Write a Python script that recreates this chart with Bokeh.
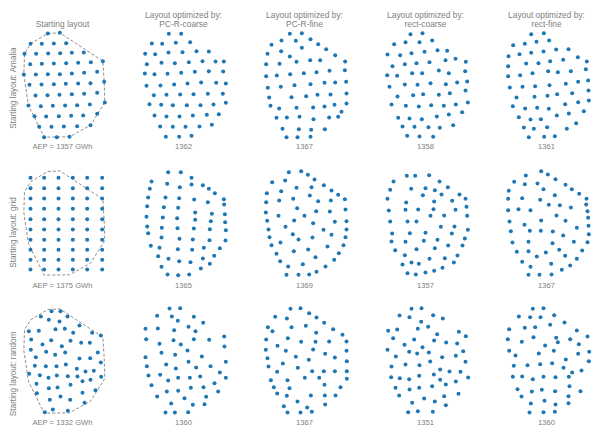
import math
from bokeh.plotting import figure
from bokeh.layouts import gridplot
from bokeh.models import Range1d, Label
from bokeh.embed import file_html
from bokeh.resources import INLINE

# ---------------- data (local layout coordinates, arbitrary units, y downward) -------------
col_titles = [["Starting layout"],
              ["Layout optimized by:", "PC-R-coarse"],
              ["Layout optimized by:", "PC-R-fine"],
              ["Layout optimized by:", "rect-coarse"],
              ["Layout optimized by:", "rect-fine"]]
row_labels = ["Starting layout: Amalia", "Starting layout: grid", "Starting layout: random"]
aep_labels = [["AEP = 1357 GWh", "1362", "1367", "1358", "1361"],
              ["AEP = 1375 GWh", "1365", "1369", "1357", "1367"],
              ["AEP = 1332 GWh", "1360", "1367", "1351", "1360"]]

boundary = [(142, 99), (178, 97), (307, 182), (311, 244), (313, 306), (270, 374), (207, 409),
            (131, 410), (84, 315), (70, 222), (72, 160), (90, 130), (142, 99)]

amalia_start = [(142,99),(178,97),(90,130),(124,130),(160,129),(197,128),(72,160),(107,160),(143,159),(179,158),(214,157),(250,156),(89,191),(124,190),(160,189),(197,188),(233,187),(271,185),(307,182),(70,222),(106,222),(142,221),(178,221),(214,219),(251,217),(290,214),(87,253),(123,252),(160,251),(196,250),(233,249),(270,248),(311,244),(105,285),(141,284),(177,283),(214,281),(251,280),(290,277),(84,315),(121,317),(157,316),(194,315),(230,314),(268,312),(313,306),(102,347),(137,348),(175,347),(212,346),(248,345),(290,340),(116,379),(153,379),(190,378),(230,377),(270,374),(131,410),(169,410),(207,409)]
amalia_pcr_coarse = [(142,100),(179,100),(91,129),(122,130),(163,127),(206,125),(71,160),(101,161),(141,156),(183,155),(225,152),(262,153),(76,191),(120,187),(160,188),(202,185),(243,182),(282,183),(307,183),(70,219),(99,221),(138,220),(179,217),(220,214),(262,212),(305,213),(75,256),(117,255),(158,252),(198,249),(239,246),(284,247),(313,249),(97,284),(135,283),(176,282),(216,281),(259,280),(304,280),(84,311),(119,313),(154,314),(196,314),(237,314),(276,312),(313,307),(99,345),(135,348),(174,348),(214,345),(256,343),(292,341),(116,378),(154,379),(192,379),(234,378),(271,373),(133,409),(173,409),(210,406)]
amalia_pcr_fine = [(142,100),(178,98),(87,133),(117,120),(160,121),(204,116),(227,131),(75,160),(116,152),(178,142),(251,146),(278,164),(142,168),(162,184),(203,179),(233,179),(308,183),(71,191),(111,190),(71,227),(103,225),(143,221),(184,218),(222,215),(261,211),(307,209),(76,262),(115,259),(156,254),(204,251),(246,247),(278,246),(311,244),(80,291),(147,290),(191,287),(225,283),(264,282),(312,279),(84,316),(110,324),(162,322),(212,321),(246,318),(276,313),(312,309),(297,334),(102,352),(133,351),(171,349),(213,356),(260,351),(287,349),(120,385),(169,386),(206,388),(247,386),(132,410),(165,410),(204,409)]
amalia_rect_coarse = [(141,101),(177,98),(92,131),(126,125),(168,125),(206,120),(72,162),(110,164),(144,158),(183,154),(222,149),(251,151),(87,197),(124,191),(159,188),(198,185),(246,179),(276,175),(307,184),(71,224),(101,226),(146,218),(176,218),(226,210),(256,218),(305,212),(78,259),(124,252),(162,253),(201,248),(247,251),(281,246),(311,243),(102,288),(149,284),(179,281),(226,283),(259,278),(306,270),(84,312),(127,316),(166,318),(203,314),(241,316),(277,312),(313,306),(104,352),(138,354),(175,356),(220,348),(256,342),(296,335),(117,378),(153,379),(195,380),(229,382),(269,374),(131,406),(168,408),(209,409)]
amalia_rect_fine = [(140,101),(178,98),(86,134),(121,130),(156,124),(194,120),(72,167),(105,161),(140,157),(177,153),(215,147),(252,146),(71,197),(125,189),(162,188),(197,182),(236,178),(280,170),(307,183),(71,227),(107,224),(144,218),(191,212),(220,215),(259,212),(304,206),(76,261),(114,259),(152,257),(195,254),(244,250),(281,244),(311,240),(96,291),(150,289),(189,286),(218,281),(263,278),(312,270),(85,317),(122,324),(158,322),(193,325),(242,311),(281,305),(313,300),(103,350),(138,357),(169,356),(217,345),(253,339),(298,332),(118,381),(148,385),(188,380),(247,385),(275,368),(133,410),(179,409),(211,407)]

grid_cols = [90, 131, 174, 217, 260, 305]
grid_rows = [118, 149, 180, 211, 242, 273, 304, 334, 364, 393]
grid_start = [(gx, gy) for gy in grid_rows for gx in grid_cols]
grid_pcr_coarse = [(140,101),(178,101),(90,129),(137,136),(175,146),(210,118),(210,138),(244,140),(262,151),(280,164),(85,151),(80,177),(132,177),(173,179),(218,183),(259,191),(307,182),(308,198),(77,203),(127,206),(170,208),(221,222),(271,226),(310,227),(75,235),(124,237),(167,239),(221,244),(268,248),(311,251),(77,264),(121,268),(168,269),(217,270),(265,272),(313,275),(80,284),(120,297),(174,301),(214,303),(264,305),(312,306),(88,322),(114,328),(169,332),(212,334),(247,328),(295,329),(110,353),(141,361),(173,368),(207,371),(244,360),(278,352),(265,376),(120,385),(238,390),(138,408),(170,410),(203,408)]
grid_pcr_fine = [(139,101),(176,98),(196,109),(216,123),(89,131),(128,126),(162,148),(207,146),(244,140),(267,156),(287,169),(73,164),(116,158),(152,181),(202,171),(227,188),(265,186),(307,182),(71,191),(110,186),(164,209),(221,218),(262,219),(309,213),(70,222),(108,232),(155,246),(186,232),(212,254),(277,250),(312,248),(74,247),(129,265),(243,274),(267,289),(312,273),(78,273),(81,296),(114,312),(151,287),(168,303),(210,297),(255,324),(309,296),(87,320),(303,320),(102,346),(154,338),(197,333),(219,356),(289,344),(113,368),(181,377),(275,364),(137,384),(249,384),(132,409),(168,409),(200,408),(222,400)]
grid_rect_coarse = [(130,112),(155,112),(197,110),(90,129),(228,129),(80,154),(143,151),(186,149),(214,155),(253,146),(178,170),(234,168),(288,168),(306,181),(72,181),(128,192),(212,189),(266,187),(76,216),(126,214),(164,213),(210,212),(276,214),(309,205),(201,232),(242,231),(311,232),(80,249),(132,249),(159,249),(232,265),(273,264),(313,274),(86,285),(139,284),(186,283),(265,285),(84,309),(126,310),(181,307),(222,304),(304,300),(95,335),(159,332),(214,329),(254,321),(297,321),(124,350),(198,361),(244,359),(282,351),(117,378),(144,372),(166,376),(271,372),(132,404),(157,408),(186,402),(212,397),(237,388)]
grid_rect_fine = [(170,98),(124,111),(190,108),(213,122),(89,130),(121,137),(159,135),(243,139),(262,152),(284,166),(73,157),(177,152),(211,170),(71,181),(113,179),(167,184),(193,199),(226,200),(259,207),(306,181),(305,198),(71,215),(102,212),(138,215),(216,231),(243,247),(309,218),(311,238),(75,249),(120,259),(170,246),(79,278),(136,277),(169,277),(205,279),(236,291),(277,268),(312,262),(313,287),(84,312),(132,310),(204,314),(268,310),(309,311),(97,340),(132,338),(184,342),(224,334),(242,352),(293,336),(157,354),(113,370),(138,385),(200,376),(232,394),(257,381),(277,361),(132,409),(165,409),(201,408)]

random_start = [(153,104),(180,104),(121,120),(201,120),(145,130),(177,135),(237,147),(85,164),(115,163),(165,158),(193,157),(218,169),(275,169),(301,177),(92,189),(152,191),(210,193),(242,199),(268,199),(126,204),(184,209),(91,220),(137,226),(194,228),(292,228),(164,235),(106,242),(237,246),(269,245),(301,258),(103,268),(136,269),(168,269),(196,264),(229,277),(255,285),(280,283),(86,292),(118,296),(144,304),(169,297),(202,299),(231,300),(302,301),(246,314),(270,310),(108,322),(210,325),(145,335),(171,333),(109,350),(246,349),(285,341),(148,370),(180,360),(209,370),(252,379),(133,407),(157,399),(202,403)]
random_pcr_coarse = [(144,96),(176,95),(107,118),(151,120),(217,121),(169,133),(245,139),(72,157),(109,156),(158,161),(201,151),(222,164),(308,180),(74,188),(156,191),(178,204),(217,188),(263,190),(114,202),(309,210),(120,229),(161,235),(198,222),(241,240),(72,242),(76,269),(134,264),(201,256),(224,273),(267,269),(313,256),(163,276),(81,297),(116,295),(140,312),(170,304),(205,304),(236,300),(295,288),(313,304),(90,326),(136,345),(170,343),(208,334),(246,332),(279,320),(290,345),(107,360),(189,365),(254,361),(149,381),(214,385),(249,383),(132,408),(160,408),(200,407)]
random_pcr_fine = [(144,97),(174,95),(98,121),(133,126),(200,110),(222,123),(76,152),(90,164),(147,152),(190,148),(245,139),(221,169),(272,158),(300,175),(71,189),(136,185),(176,196),(219,196),(260,195),(312,195),(105,208),(130,223),(212,219),(312,223),(70,220),(75,245),(121,261),(160,241),(199,250),(248,232),(277,243),(313,254),(78,270),(104,286),(166,274),(209,284),(244,284),(277,284),(313,284),(85,311),(135,311),(187,304),(230,304),(313,307),(94,332),(141,335),(246,325),(294,332),(104,351),(133,358),(205,357),(247,357),(279,357),(165,375),(248,384),(124,389),(194,393),(135,408),(174,408),(208,406)]
random_rect_coarse = [(144,97),(174,95),(108,117),(138,122),(209,116),(173,136),(238,126),(74,163),(101,159),(163,157),(194,151),(221,173),(286,166),(307,179),(89,185),(152,189),(212,192),(248,198),(281,201),(123,205),(177,212),(72,220),(137,226),(161,231),(196,228),(299,224),(97,240),(236,242),(277,238),(200,255),(306,256),(84,270),(126,264),(168,266),(230,279),(258,285),(291,286),(83,302),(109,305),(137,308),(167,298),(211,294),(230,310),(277,315),(314,303),(96,334),(138,339),(167,334),(206,329),(247,324),(285,352),(107,357),(182,366),(242,359),(146,379),(214,375),(247,386),(134,407),(163,404),(208,406)]
random_rect_fine = [(145,97),(177,95),(103,120),(137,122),(168,122),(209,116),(152,152),(197,145),(240,138),(74,158),(121,154),(147,182),(215,184),(257,188),(277,162),(309,180),(70,188),(112,196),(182,207),(220,197),(283,203),(74,223),(93,237),(163,231),(208,223),(244,249),(281,232),(314,226),(313,254),(88,268),(129,266),(167,263),(203,260),(237,274),(291,282),(263,288),(85,301),(113,300),(145,308),(177,301),(213,302),(253,301),(99,338),(142,345),(172,340),(212,344),(255,329),(288,344),(111,360),(180,373),(252,359),(139,381),(213,384),(252,380),(135,408),(177,407),(211,406)]

layouts = [[amalia_start, amalia_pcr_coarse, amalia_pcr_fine, amalia_rect_coarse, amalia_rect_fine],
           [grid_start, grid_pcr_coarse, grid_pcr_fine, grid_rect_coarse, grid_rect_fine],
           [random_start, random_pcr_coarse, random_pcr_fine, random_rect_coarse, random_rect_fine]]

# ---------------- styling / layout -------------
BLUE = "#1f77b4"
GREY = "#808080"
FONT = "Liberation Sans"
col_widths = [124, 121, 121, 121, 113]
col_xr = [(0, 372), (9, 372), (9, 372), (9, 372), (9, 348)]
row_heights = [152, 138, 145]
row_yr = [(456, 0), (456, 42), (477, 42)]
row_label_y = [262, 282, 292]
title_x = 186
title_y = [42, 69]
aep_y = [438, 441, 438]

rows = []
for r in range(3):
    row = []
    for c in range(5):
        p = figure(width=col_widths[c], height=row_heights[r],
                   x_range=Range1d(*col_xr[c]), y_range=Range1d(*row_yr[r]),
                   output_backend="svg", toolbar_location=None,
                   x_axis_location=None, y_axis_location=None, min_border=0)
        p.outline_line_color = None
        p.grid.visible = False
        p.background_fill_color = "white"
        p.border_fill_color = "white"
        if c == 0:
            bx = [b[0] for b in boundary]
            by = [b[1] for b in boundary]
            p.line(bx, by, line_color="#8c8c8c", line_width=1, line_dash="3 2")
        pts = layouts[r][c]
        if pts:
            p.scatter([q[0] for q in pts], [q[1] for q in pts], size=4.0,
                      fill_color=BLUE, line_color=None)
        if r == 0:
            lines = col_titles[c]
            ys = title_y if len(lines) == 2 else [title_y[1]]
            for t, yy in zip(lines, ys):
                p.add_layout(Label(x=title_x, y=yy, text=t, text_align="center",
                                   text_baseline="middle", text_font=FONT,
                                   text_font_size="8.4px", text_color=GREY))
        p.add_layout(Label(x=title_x, y=aep_y[r], text=aep_labels[r][c], text_align="center",
                           text_baseline="middle", text_font=FONT,
                           text_font_size="7.6px", text_color=GREY))
        if c == 0:
            p.add_layout(Label(x=39, y=row_label_y[r], text=row_labels[r], angle=math.pi / 2,
                               text_align="center", text_baseline="middle", text_font=FONT,
                               text_font_size="8.2px", text_color=GREY))
        row.append(p)
    rows.append(row)

grid = gridplot(rows, toolbar_location=None)

open("out.html", "w").write(file_html(grid, INLINE))
